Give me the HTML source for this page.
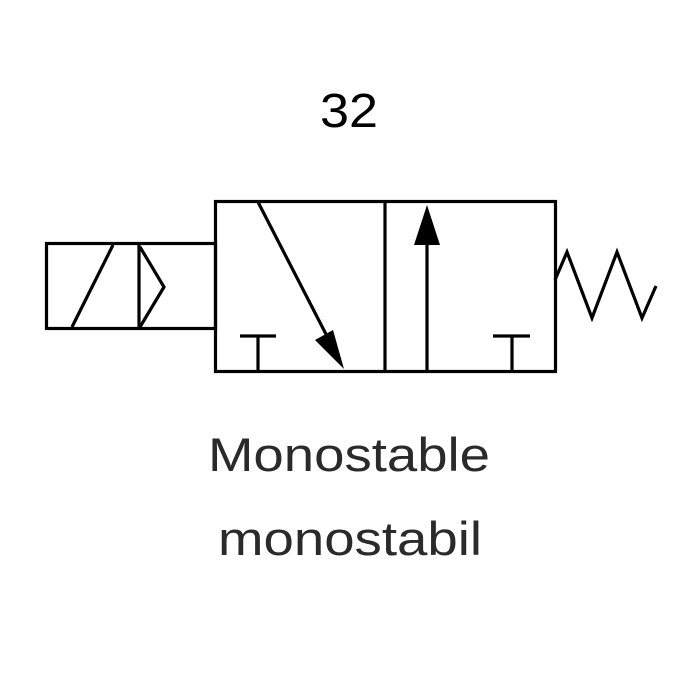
<!DOCTYPE html>
<html><head><style>body{margin:0;background:#fff}svg{display:block}</style></head><body>
<svg width="700" height="700" viewBox="0 0 700 700" xmlns="http://www.w3.org/2000/svg">
<g fill="none" stroke="#000" stroke-width="3.2" stroke-linejoin="miter">
<rect x="215.5" y="201.5" width="340" height="170"/>
<line x1="385" y1="201" x2="385" y2="371"/>
<rect x="46.5" y="243.5" width="169" height="85"/>
<line x1="72" y1="327" x2="113" y2="245"/>
<line x1="139" y1="244" x2="139" y2="328"/>
<polyline points="140,247 164,287 140,327"/>
<line x1="258" y1="202" x2="330" y2="342"/>
<line x1="240" y1="336" x2="276" y2="336"/>
<line x1="258" y1="336" x2="258" y2="371"/>
<line x1="427" y1="240" x2="427" y2="371"/>
<line x1="493" y1="336" x2="530" y2="336"/>
<line x1="512" y1="336" x2="512" y2="371"/>
<polyline points="555,280 567,252 592,318 617,252 642,318 656,286"/>
</g>
<polygon points="344,369 315,340 333,330" fill="#000"/>
<polygon points="427,205 414,245 440,245" fill="#000"/>
<g font-family="Liberation Sans, sans-serif" fill="#000">
<text x="320" y="127" font-size="48" textLength="58" lengthAdjust="spacingAndGlyphs">32</text>
<text x="208" y="471" font-size="47" fill="#2a2a2a" textLength="282" lengthAdjust="spacingAndGlyphs">Monostable</text>
<text x="218" y="555" font-size="47" fill="#2a2a2a" textLength="264" lengthAdjust="spacingAndGlyphs">monostabil</text>
</g>
</svg>
</body></html>
